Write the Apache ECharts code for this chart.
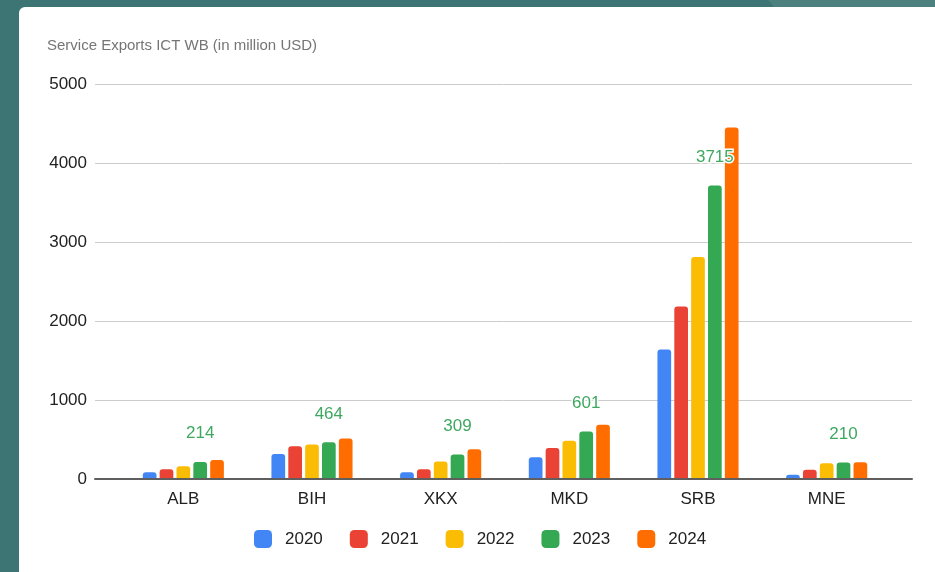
<!DOCTYPE html>
<html>
<head>
<meta charset="utf-8">
<title>Service Exports ICT WB</title>
<script src="https://cdn.jsdelivr.net/npm/echarts@6/dist/echarts.min.js"></script>
<style>
  html, body { margin: 0; padding: 0; width: 935px; height: 572px; overflow: hidden; background: #3d7574; }
  #shade { position: absolute; left: 768px; top: 0; width: 167px; height: 7px; background: #4d817f; clip-path: polygon(0 0, 100% 0, 100% 100%, 6px 100%); }
  #card { position: absolute; left: 19px; top: 7px; width: 916px; height: 565px; background: #ffffff; border-top-left-radius: 6px; }
  #chart { position: absolute; left: 0; top: 0; width: 935px; height: 572px; }
</style>
</head>
<body>
<div id="shade"></div>
<div id="card"></div>
<div id="chart"></div>
<script>
// Economies (Western Balkans)
const countries = ['ALB', 'BIH', 'XKX', 'MKD', 'SRB', 'MNE'];
const years = ['2020', '2021', '2022', '2023', '2024'];

// ICT service exports, million USD
const exports2020 = [85, 317, 85, 274, 1640, 55];
const exports2021 = [123, 414, 123, 393, 2184, 118];
const exports2022 = [161, 436, 220, 485, 2809, 198];
const exports2023 = [214, 464, 309, 601, 3715, 210];
const exports2024 = [241, 512, 376, 688, 4450, 212];

const yTicks = [0, 1000, 2000, 3000, 4000, 5000];

const seriesValues = [exports2020, exports2021, exports2022, exports2023, exports2024];
const palette = ['#4285f4', '#ea4335', '#fbbc04', '#34a853', '#ff6d01'];
const labelledYear = '2023';

const font = '"Liberation Sans", Arial, sans-serif';

const chart = echarts.init(document.getElementById('chart'), null, { renderer: 'canvas' });

const series = years.map((y, i) => ({
  name: y,
  type: 'bar',
  xAxisIndex: 1,
  yAxisIndex: 1,
  data: seriesValues[i],
  barWidth: 13.7,
  barGap: '23%',
  itemStyle: { color: palette[i], borderRadius: [3, 3, 0, 0] },
  label: y === labelledYear ? {
    show: true,
    position: 'top',
    distance: 20,
    color: '#3ea860',
    fontSize: 17,
    fontFamily: font,
    textBorderColor: '#ffffff',
    textBorderWidth: 3
  } : { show: false },
  z: 2
}));

chart.setOption({
  animation: false,
  color: palette,
  title: {
    text: 'Service Exports ICT WB (in million USD)',
    left: 47,
    top: 38,
    padding: 0,
    textStyle: { fontFamily: font, fontSize: 15, fontWeight: 'normal', color: '#757575' }
  },
  legend: {
    data: years,
    left: 254,
    top: 530,
    padding: 0,
    itemWidth: 18,
    itemHeight: 18,
    itemGap: 27,
    icon: 'roundRect',
    textStyle: { fontFamily: font, fontSize: 17, color: '#222222', padding: [0, 0, 0, 8] }
  },
  grid: [
    // wide grid: gridlines, value labels and baseline
    { left: 95, right: 23, top: 84, bottom: 93 },
    // category grid holding the bars
    { left: 119, right: 44, top: 84, bottom: 93 }
  ],
  xAxis: [
    {
      gridIndex: 0,
      type: 'category',
      data: countries,
      axisLine: { show: true, lineStyle: { color: '#5f5f5f', width: 2 } },
      axisTick: { show: false },
      axisLabel: { show: false },
      z: 5
    },
    {
      gridIndex: 1,
      type: 'category',
      data: countries,
      axisLine: { show: false },
      axisTick: { show: false },
      axisLabel: { margin: 12, fontFamily: font, fontSize: 17, color: '#222222' }
    }
  ],
  yAxis: [
    {
      gridIndex: 0,
      type: 'value',
      min: yTicks[0],
      max: yTicks[yTicks.length - 1],
      interval: 1000,
      axisLine: { show: false },
      axisTick: { show: false },
      axisLabel: {
        margin: 8,
        fontFamily: font,
        fontSize: 17,
        color: '#222222',
        formatter: (v) => String(v)
      },
      splitLine: { lineStyle: { color: '#cccccc', width: 1 } }
    },
    {
      gridIndex: 1,
      type: 'value',
      min: yTicks[0],
      max: yTicks[yTicks.length - 1],
      interval: 1000,
      show: false,
      splitLine: { show: false }
    }
  ],
  series: series
});
</script>
</body>
</html>
